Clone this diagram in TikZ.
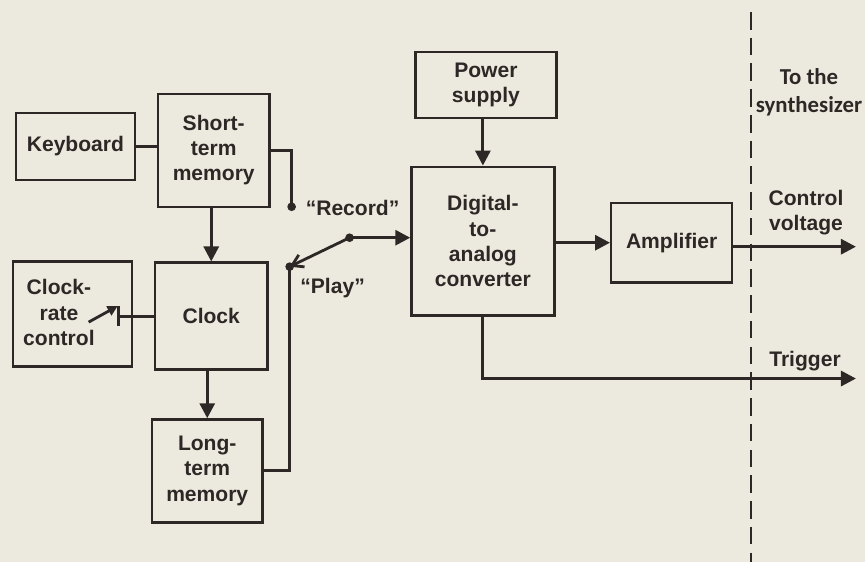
\documentclass[tikz,border=0pt]{standalone}
\usepackage{fontspec}
\setmainfont{Liberation Sans}
\newfontfamily\notefont{Carlito}
\usetikzlibrary{arrows.meta}
\definecolor{paper}{RGB}{236,234,222}
\definecolor{ink}{RGB}{45,40,38}
\begin{document}
\begin{tikzpicture}[x=0.03cm, y=-0.03cm,
    every node/.style={font=\fontsize{18}{21.5}\selectfont\bfseries, text=ink, align=center},
    blk/.style={draw=ink, line width=2.1pt, inner sep=0pt},
    wire/.style={draw=ink, line width=2.6pt},
    arr/.style={wire, -{Triangle[length=0.45cm, width=0.45cm]}},
    dot/.style={fill=ink}]
  \fill[paper] (0,0) rectangle (866,563);
  \node[blk, minimum width=3.57cm, minimum height=2.01cm] (kbd) at (75.5,146.5) {Keyboard};
  \node[blk, minimum width=3.36cm, minimum height=3.39cm] (stm) at (214,150.5) {Short-\\term\\memory};
  \node[blk, minimum width=3.57cm, minimum height=3.15cm] (crc) at (72.5,314.5) {};
  \node (crctxt) at (59,313) {Clock-\\rate\\control};
  \node[blk, minimum width=3.39cm, minimum height=3.21cm] (clk) at (211.5,316.5) {Clock};
  \node[blk, minimum width=3.33cm, minimum height=3.09cm] (ltm) at (207.5,471.5) {Long-\\term\\memory};
  \node[blk, minimum width=4.23cm, minimum height=1.98cm] (psu) at (486.5,85) {Power\\supply};
  \node[blk, minimum width=4.29cm, minimum height=4.47cm] (dac) at (483.5,241.5) {Digital-\\to-\\analog\\converter};
  \node[blk, minimum width=3.63cm, minimum height=2.40cm] (amp) at (672.5,243) {Amplifier};
  \coordinate (rec) at (292,207);
  \coordinate (piv) at (350,238);
  \coordinate (play) at (290,267);
  \coordinate (cvout) at (857,247);
  \coordinate (trig) at (857,379);
  \draw[wire] (kbd.east) -- (kbd.east -| stm.west);
  \draw[arr] (clk.north |- stm.south) -- (clk.north);
  \draw[arr] (ltm.north |- clk.south) -- (ltm.north);
  \draw[wire] (stm.east) -| (rec);
  \fill[dot] (rec) circle[radius=0.13cm];
  \fill[dot] (piv) circle[radius=0.13cm];
  \fill[dot] (play) circle[radius=0.13cm];
  \draw[arr] (piv) -- (piv -| dac.west);
  \draw[wire, line width=2.4pt, -{Straight Barb[length=0.32cm, width=0.4cm]}] (piv) -- (play);
  \draw[wire] (play) |- (ltm.east);
  \draw[wire] (clk.west) -- ++(-35,0) coordinate (wip);
  \draw[wire] (wip) ++(0,-10) -- ++(0,20);
  \draw[wire, line width=2.4pt, -{Triangle[length=0.3cm, width=0.3cm]}] (wip) ++(-30,6) -- ++(29,-16);
  \draw[arr] (dac.north |- psu.south) -- (dac.north);
  \draw[arr] (dac.east |- amp.west) -- (amp.west);
  \draw[arr] (amp.east |- cvout) -- (cvout);
  \draw[arr] (dac.south) |- (trig);
  \draw[ink, line width=1.9pt, dash pattern=on 15pt off 7pt] (752,12) -- (752,563);
  \node (reclbl) [anchor=west] at (302,208) {“Record”};
  \node (playlbl) at (333,288) {“Play”};
  \node (synlbl) [font=\notefont\bfseries\fontsize{19.5}{24}\selectfont] at (810,92) {To the\\synthesizer};
  \node (cvlbl) at (807,213) {Control\\voltage};
  \node (triglbl) at (806,362) {Trigger};
\end{tikzpicture}
\end{document}
